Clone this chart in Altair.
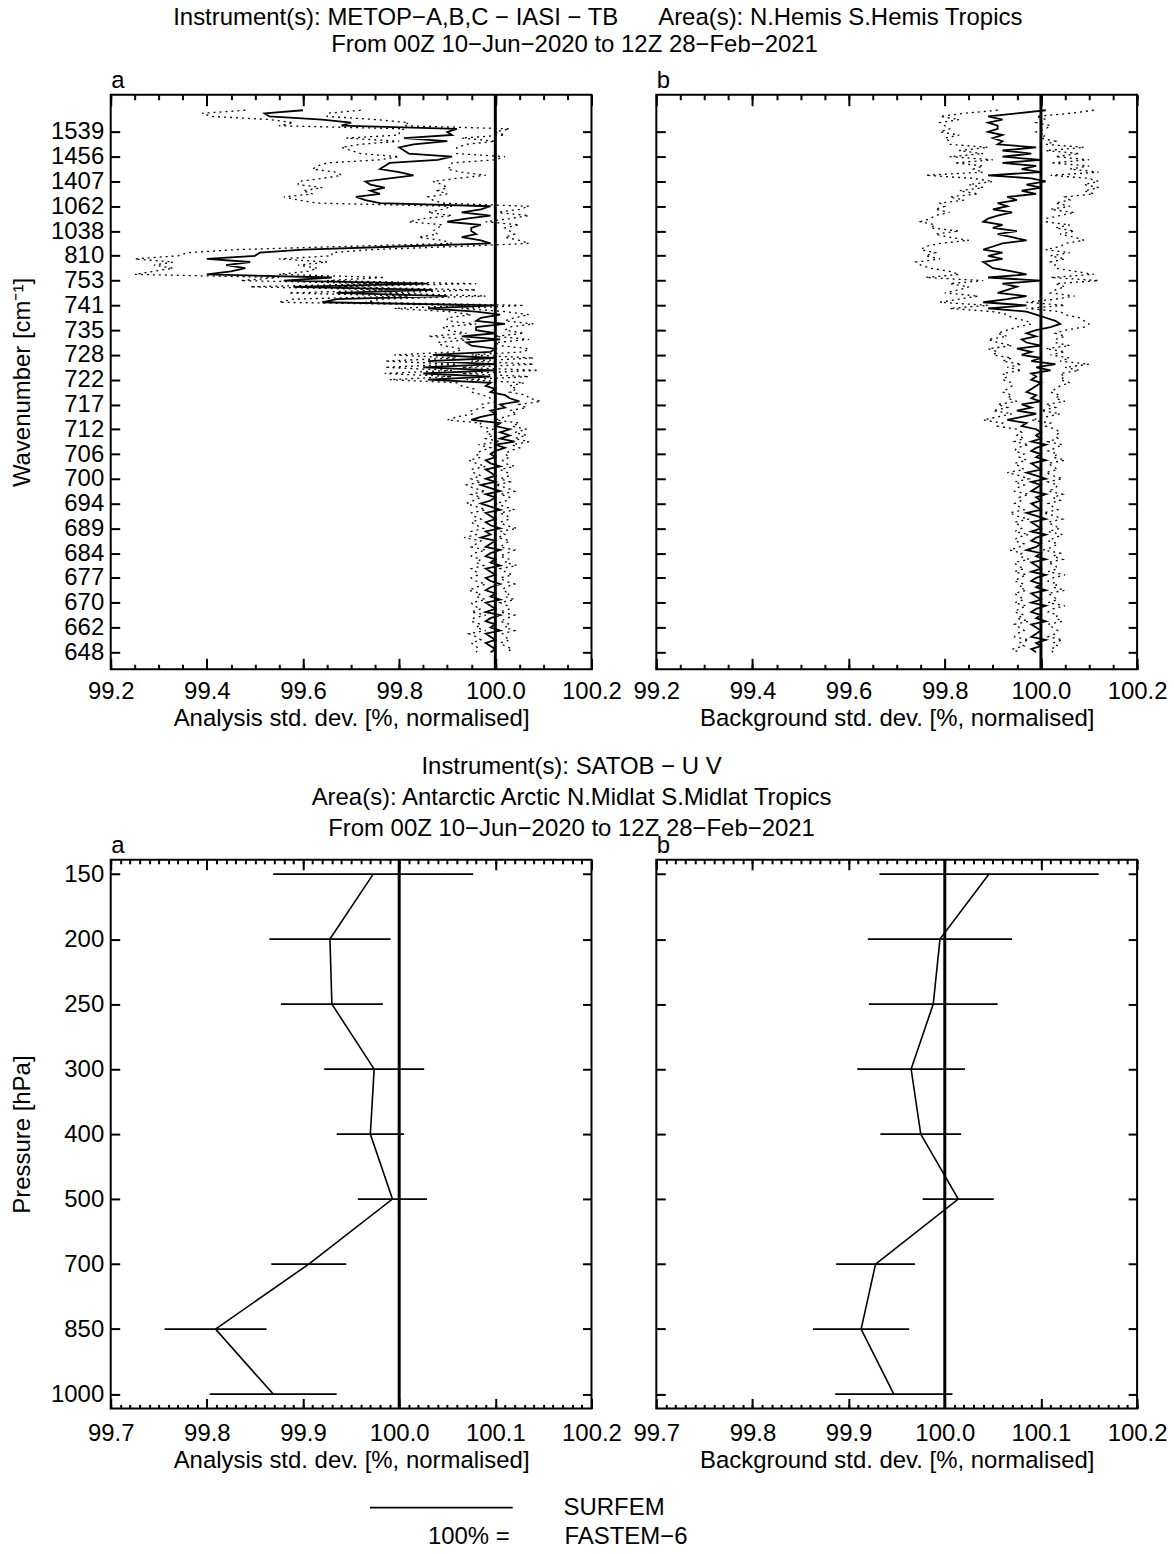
import altair as alt
import pandas as pd
import numpy as np

FONT = "Liberation Sans"
FS = 24
NB = "\u00a0"
ZW = "\u200b"

TITLE_TOP = [
    ZW + NB * 7 + "Instrument(s): METOP\u2212A,B,C \u2212 IASI \u2212 TB" + NB * 6 + "Area(s): N.Hemis S.Hemis Tropics",
    "From 00Z 10\u2212Jun\u22122020 to 12Z 28\u2212Feb\u22122021",
]
TITLE_BOTTOM = [
    "Instrument(s): SATOB \u2212 U V",
    "Area(s): Antarctic Arctic N.Midlat S.Midlat Tropics",
    "From 00Z 10\u2212Jun\u22122020 to 12Z 28\u2212Feb\u22122021",
]

WAVENUMBER_LABELS = ["1539", "1456", "1407", "1062", "1038", "810", "753", "741", "735", "728", "722",
                     "717", "712", "706", "700", "694", "689", "684", "677", "670", "662", "648"]
PRESSURE_LEVELS = ["150", "200", "250", "300", "400", "500", "700", "850", "1000"]
TOP_X_TICKS = [99.2, 99.4, 99.6, 99.8, 100.0, 100.2]
BOT_X_TICKS = [99.7, 99.8, 99.9, 100.0, 100.1, 100.2]

IASI_AN_MEAN = [
    99.60, 99.52, 99.53, 99.64, 99.70, 99.68, 99.92, 99.90,
    99.91, 99.81, 99.90, 99.83, 99.80, 99.81, 99.82, 99.91,
    99.88, 99.78, 99.77, 99.76, 99.80, 99.83, 99.78, 99.73,
    99.74, 99.77, 99.74, 99.76, 99.71, 99.73, 99.76, 99.99,
    99.97, 99.93, 99.99, 99.94, 99.90, 99.97, 99.95, 99.95,
    99.96, 99.93, 99.97, 99.99, 99.80, 99.60, 99.51, 99.50,
    99.40, 99.49, 99.44, 99.48, 99.45, 99.40, 99.66, 99.56,
    99.86, 99.58, 99.87, 99.67, 99.90, 99.67, 99.64, 100.00,
    99.86, 99.96, 100.01, 99.97, 99.96, 100.02, 99.96, 99.96,
    100.00, 99.93, 100.01, 99.94, 99.95, 100.00, 99.99, 99.87,
    100.00, 99.86, 100.00, 99.85, 100.00, 99.85, 99.99, 99.86,
    99.99, 99.98, 100.00, 99.99, 100.02, 100.03, 100.05, 100.01,
    100.02, 99.99, 100.00, 99.97, 99.95, 100.01, 100.00, 100.03,
    100.01, 100.03, 100.01, 100.04, 100.00, 100.02, 100.00, 99.99,
    100.00, 99.98, 99.99, 100.01, 99.98, 99.99, 100.00, 99.98,
    100.00, 99.97, 99.99, 100.01, 99.98, 100.00, 99.99, 99.97,
    99.99, 100.01, 99.98, 99.99, 100.00, 99.98, 99.99, 100.01,
    99.98, 99.99, 99.97, 100.00, 99.99, 99.98, 100.01, 99.99,
    99.98, 100.00, 99.99, 100.01, 99.98, 99.99, 100.00, 99.98,
    99.99, 100.01, 99.99, 99.98, 100.00, 99.99, 100.01, 99.98,
    99.99, 100.00, 99.98, 100.01, 99.99, 99.98, 100.00, 99.99,
    100.01, 99.98, 99.99, 100.00, 99.98, 99.99, 100.00, 99.99,
]
IASI_AN_ERR = [
    0.12, 0.13, 0.12, 0.11, 0.12, 0.13, 0.11, 0.10,
    0.11, 0.12, 0.10, 0.11, 0.12, 0.11, 0.10, 0.11,
    0.12, 0.13, 0.14, 0.14, 0.13, 0.15, 0.14, 0.14,
    0.15, 0.13, 0.14, 0.14, 0.15, 0.14, 0.13, 0.08,
    0.08, 0.07, 0.08, 0.09, 0.08, 0.08, 0.07, 0.08,
    0.08, 0.09, 0.08, 0.08, 0.12, 0.14, 0.15, 0.16,
    0.15, 0.16, 0.15, 0.15, 0.16, 0.15, 0.11, 0.09,
    0.10, 0.09, 0.09, 0.10, 0.08, 0.09, 0.09, 0.06,
    0.07, 0.06, 0.06, 0.07, 0.06, 0.06, 0.07, 0.06,
    0.06, 0.07, 0.06, 0.06, 0.06, 0.07, 0.07, 0.08,
    0.08, 0.09, 0.08, 0.08, 0.09, 0.08, 0.08, 0.08,
    0.07, 0.05, 0.045, 0.04, 0.045, 0.04, 0.045, 0.04,
    0.045, 0.04, 0.045, 0.05, 0.05, 0.04, 0.035, 0.035,
    0.03, 0.035, 0.03, 0.03, 0.035, 0.03, 0.03, 0.03,
    0.03, 0.035, 0.03, 0.03, 0.03, 0.035, 0.03, 0.03,
    0.03, 0.03, 0.035, 0.03, 0.03, 0.03, 0.035, 0.03,
    0.03, 0.03, 0.03, 0.035, 0.03, 0.03, 0.03, 0.035,
    0.03, 0.03, 0.035, 0.03, 0.03, 0.03, 0.03, 0.035,
    0.03, 0.03, 0.03, 0.035, 0.03, 0.03, 0.035, 0.03,
    0.03, 0.03, 0.03, 0.035, 0.03, 0.03, 0.03, 0.03,
    0.035, 0.03, 0.03, 0.03, 0.035, 0.03, 0.03, 0.03,
    0.03, 0.035, 0.03, 0.03, 0.03, 0.03, 0.035, 0.03,
]
IASI_BG_MEAN = [
    100.01, 99.95, 99.89, 99.92, 99.89, 99.91, 99.91, 99.89,
    99.92, 99.90, 99.92, 99.91, 99.99, 99.92, 99.98, 99.92,
    100.00, 99.92, 99.99, 99.96, 100.00, 99.89, 99.98, 100.01,
    99.97, 100.00, 99.96, 99.99, 99.93, 99.95, 99.91, 99.93,
    99.90, 99.94, 99.91, 99.89, 99.88, 99.92, 99.90, 99.95,
    99.91, 99.94, 99.97, 99.92, 99.90, 99.88, 99.92, 99.89,
    99.92, 99.88, 99.89, 99.90, 99.94, 99.97, 99.89, 100.00,
    99.92, 99.95, 99.93, 99.91, 99.97, 99.93, 99.88, 99.97,
    99.89, 99.97, 99.99, 100.01, 100.03, 100.04, 100.02, 99.99,
    99.97, 99.99, 99.96, 99.97, 100.00, 99.95, 99.98, 99.96,
    100.00, 99.98, 100.03, 99.99, 100.02, 99.98, 99.99, 99.98,
    100.00, 99.99, 99.98, 99.97, 99.99, 99.98, 100.00, 99.96,
    99.98, 99.95, 99.99, 99.96, 99.93, 99.97, 99.96, 99.99,
    100.00, 99.99, 100.00, 99.98, 100.01, 99.99, 99.98, 100.00,
    99.99, 100.01, 99.98, 99.99, 100.00, 99.97, 99.99, 100.01,
    99.98, 100.00, 99.99, 99.98, 100.01, 99.99, 100.00, 99.98,
    99.99, 100.00, 99.97, 99.99, 100.01, 99.98, 99.99, 100.00,
    99.98, 100.01, 99.99, 99.98, 100.00, 99.99, 99.97, 100.00,
    99.99, 100.01, 99.98, 99.99, 100.00, 99.98, 100.01, 99.99,
    99.98, 100.00, 99.99, 100.01, 99.98, 99.99, 100.00, 99.98,
    100.01, 99.99, 99.98, 100.00, 99.99, 100.01, 99.98, 99.99,
    100.00, 99.99, 99.98, 100.01, 99.99, 100.00, 99.98, 99.99,
]
IASI_BG_ERR = [
    0.10, 0.11, 0.10, 0.09, 0.10, 0.11, 0.10, 0.10,
    0.09, 0.10, 0.11, 0.10, 0.10, 0.09, 0.10, 0.11,
    0.10, 0.10, 0.11, 0.10, 0.12, 0.13, 0.12, 0.11,
    0.12, 0.12, 0.13, 0.12, 0.12, 0.11, 0.12, 0.13,
    0.12, 0.13, 0.13, 0.12, 0.13, 0.14, 0.13, 0.12,
    0.13, 0.13, 0.12, 0.13, 0.14, 0.13, 0.14, 0.13,
    0.13, 0.14, 0.14, 0.13, 0.13, 0.14, 0.13, 0.12,
    0.11, 0.10, 0.10, 0.11, 0.10, 0.10, 0.09, 0.08,
    0.08, 0.07, 0.06, 0.07, 0.06, 0.06, 0.07, 0.06,
    0.06, 0.06, 0.07, 0.06, 0.06, 0.06, 0.07, 0.06,
    0.06, 0.06, 0.07, 0.06, 0.06, 0.06, 0.06, 0.06,
    0.06, 0.05, 0.05, 0.05, 0.05, 0.05, 0.05, 0.05,
    0.05, 0.05, 0.05, 0.05, 0.05, 0.05, 0.05, 0.04,
    0.04, 0.04, 0.035, 0.035, 0.035, 0.04, 0.035, 0.035,
    0.035, 0.04, 0.035, 0.035, 0.035, 0.04, 0.035, 0.035,
    0.035, 0.035, 0.04, 0.035, 0.035, 0.035, 0.04, 0.035,
    0.035, 0.035, 0.035, 0.04, 0.035, 0.035, 0.035, 0.04,
    0.035, 0.035, 0.04, 0.035, 0.035, 0.035, 0.035, 0.04,
    0.035, 0.035, 0.035, 0.04, 0.035, 0.035, 0.04, 0.035,
    0.035, 0.035, 0.035, 0.04, 0.035, 0.035, 0.035, 0.035,
    0.04, 0.035, 0.035, 0.035, 0.04, 0.035, 0.035, 0.035,
    0.035, 0.04, 0.035, 0.035, 0.035, 0.035, 0.04, 0.035,
]

SATOB_AN_MEAN = [99.973, 99.928, 99.930, 99.974, 99.970, 99.993, 99.906, 99.809, 99.869]
SATOB_AN_ERR = [0.104, 0.063, 0.053, 0.052, 0.035, 0.036, 0.039, 0.053, 0.066]
SATOB_BG_MEAN = [100.046, 99.995, 99.988, 99.965, 99.975, 100.014, 99.928, 99.913, 99.947]
SATOB_BG_ERR = [0.114, 0.075, 0.067, 0.056, 0.042, 0.037, 0.041, 0.050, 0.061]

EXP_NAME = "SURFEM"
REF_NAME = "FASTEM\u22126"
REF_VALUE = 100.0

W = 482
H_TOP = 576
H_BOT = 550
Y_TICK_IDX = [7 + 8 * k for k in range(len(WAVENUMBER_LABELS))]
LABEL_EXPR_TOP = "[" + ",".join("'%s'" % s for s in WAVENUMBER_LABELS) + "][round((datum.value - 7) / 8)]"
P_TICK_IDX = list(range(len(PRESSURE_LEVELS)))
LABEL_EXPR_BOT = "[" + ",".join("'%s'" % s for s in PRESSURE_LEVELS) + "][round(datum.value)]"


def iasi_df(mean, err):
    return pd.DataFrame({
        "idx": list(range(len(mean))),
        "mean": mean,
        "upper": [m + e for m, e in zip(mean, err)],
        "lower": [m - e for m, e in zip(mean, err)],
        "model": [EXP_NAME] * len(mean),
    })


def satob_df(mean, err):
    return pd.DataFrame({
        "k": list(range(len(PRESSURE_LEVELS))),
        "mean": mean,
        "lo": [m - e for m, e in zip(mean, err)],
        "hi": [m + e for m, e in zip(mean, err)],
        "model": [EXP_NAME] * len(mean),
    })


REF = pd.DataFrame({"ref": [REF_VALUE], "model": [REF_NAME]})


def x_axes(major, minor, mlen, nlen, title, letter, lpad, tpad):
    common = dict(grid=False, domain=False)
    bmaj = alt.Axis(orient="bottom", values=major, format=".1f", tickSize=mlen, offset=-mlen,
                    labelPadding=lpad, labelFlush=False, labelOverlap=False,
                    title=title, titlePadding=tpad, **common)
    bmin = alt.Axis(orient="bottom", values=minor, tickSize=nlen, offset=-nlen,
                    labels=False, title=None, **common)
    tmaj = alt.Axis(orient="top", values=major, tickSize=mlen, offset=-mlen, labels=False,
                    title=letter, titleAngle=0, titleAlign="left", titleBaseline="alphabetic",
                    titleX=0, titleY=-(mlen + 7), **common)
    tmin = alt.Axis(orient="top", values=minor, tickSize=nlen, offset=-nlen,
                    labels=False, title=None, **common)
    return bmaj, bmin, tmaj, tmin


def y_axes(left_labels, ytitle, values, expr):
    common = dict(grid=False, domain=False, tickSize=9, offset=-9, values=values)
    if left_labels:
        left = alt.Axis(orient="left", labelPadding=7, labelOverlap=False, labelFlush=False,
                        labelExpr=expr, title=ytitle, titlePadding=16, **common)
    else:
        left = alt.Axis(orient="left", labels=False, title=None, **common)
    right = alt.Axis(orient="right", labels=False, title=None, **common)
    return left, right


def iasi_panel(mean, err, letter, xtitle, left_labels, title=None):
    df = iasi_df(mean, err)
    xs = alt.Scale(domain=[99.2, 100.2], nice=False, zero=False)
    ys = alt.Scale(domain=[-5, 180.5], reverse=True, nice=False, zero=False)
    minor = [round(99.2 + 0.05 * k, 2) for k in range(21)]
    bmaj, bmin, tmaj, tmin = x_axes(TOP_X_TICKS, minor, 11, 5, xtitle, letter, 10, 3)
    yl, yr = y_axes(left_labels, "Wavenumber [cm\u207b\u00b9]", Y_TICK_IDX, LABEL_EXPR_TOP)
    base = alt.Chart(df)
    upper = base.mark_line(color="black", strokeWidth=1.3, strokeDash=[2, 4]).encode(
        x=alt.X("upper:Q", scale=xs, axis=bmin),
        y=alt.Y("idx:Q", scale=ys, axis=yr),
        order=alt.Order("idx:Q"),
    )
    lower = base.mark_line(color="black", strokeWidth=1.3, strokeDash=[2, 4]).encode(
        x=alt.X("lower:Q", scale=xs, axis=tmin),
        y=alt.Y("idx:Q", scale=ys, axis=None),
        order=alt.Order("idx:Q"),
    )
    ghost = base.mark_line(opacity=0).encode(
        x=alt.X("mean:Q", scale=xs, axis=tmaj),
        y=alt.Y("idx:Q", scale=ys, axis=None),
        order=alt.Order("idx:Q"),
    )
    rule = alt.Chart(REF).mark_rule(color="black", strokeWidth=3).encode(
        x=alt.X("ref:Q", scale=xs, axis=None),
    )
    line = base.mark_line(color="black", strokeWidth=1.8).encode(
        x=alt.X("mean:Q", scale=xs, axis=bmaj),
        y=alt.Y("idx:Q", scale=ys, axis=yl),
        order=alt.Order("idx:Q"),
    )
    props = dict(width=W, height=H_TOP)
    if title is not None:
        props["title"] = title
    return alt.layer(upper, lower, ghost, rule, line).resolve_axis(
        x="independent", y="independent").properties(**props)


def satob_panel(mean, err, letter, xtitle, left_labels, title=None, legends=False):
    df = satob_df(mean, err)
    xs = alt.Scale(domain=[99.7, 100.2], nice=False, zero=False)
    ys = alt.Scale(domain=[-0.22, 8.22], reverse=True, nice=False, zero=False)
    minor = [round(99.7 + 0.01 * k, 2) for k in range(51)]
    bmaj, bmin, tmaj, tmin = x_axes(BOT_X_TICKS, minor, 10, 4, xtitle, letter, 13, 3)
    yl, yr = y_axes(left_labels, "Pressure [hPa]", P_TICK_IDX, LABEL_EXPR_BOT)
    base = alt.Chart(df)
    bars = base.mark_rule(color="black", strokeWidth=1.6).encode(
        x=alt.X("lo:Q", scale=xs, axis=bmin),
        x2="hi:Q",
        y=alt.Y("k:Q", scale=ys, axis=yr),
    )
    ghost1 = base.mark_line(opacity=0).encode(
        x=alt.X("mean:Q", scale=xs, axis=tmin),
        y=alt.Y("k:Q", scale=ys, axis=None),
        order=alt.Order("k:Q"),
    )
    ghost2 = base.mark_line(opacity=0).encode(
        x=alt.X("mean:Q", scale=xs, axis=tmaj),
        y=alt.Y("k:Q", scale=ys, axis=None),
        order=alt.Order("k:Q"),
    )
    rule_enc = dict(x=alt.X("ref:Q", scale=xs, axis=None))
    line_enc = dict(
        x=alt.X("mean:Q", scale=xs, axis=bmaj),
        y=alt.Y("k:Q", scale=ys, axis=yl),
        order=alt.Order("k:Q"),
    )
    if legends:
        rule_enc["strokeDash"] = alt.StrokeDash(
            "model:N", scale=alt.Scale(domain=[REF_NAME], range=[[1, 0]]),
            legend=alt.Legend(orient="none", legendX=318, legendY=667, title="100% =",
                              titleOrient="left", titlePadding=30, symbolType="stroke",
                              symbolSize=64, symbolOpacity=0, labelOffset=0, padding=0,
                              titleBaseline="middle"))
        line_enc["stroke"] = alt.Stroke(
            "model:N", scale=alt.Scale(domain=[EXP_NAME], range=["black"]),
            legend=alt.Legend(orient="none", legendX=259, legendY=577, title=None,
                              symbolType="stroke", symbolSize=143 * 143, symbolStrokeWidth=1.6,
                              symbolStrokeColor="black", labelOffset=50, padding=0))
    rule = alt.Chart(REF).mark_rule(color="black", strokeWidth=3).encode(**rule_enc)
    line = base.mark_line(color="black", strokeWidth=1.6).encode(**line_enc)
    props = dict(width=W, height=H_BOT)
    if title is not None:
        props["title"] = title
    return alt.layer(bars, ghost1, ghost2, rule, line).resolve_axis(
        x="independent", y="independent").properties(**props)


top_title = alt.TitleParams(text=TITLE_TOP, anchor="middle", frame="group", dx=224, lineHeight=27, offset=12)
bot_title = alt.TitleParams(text=TITLE_BOTTOM, anchor="middle", frame="group", dx=221, dy=11,
                            lineHeight=31, offset=4)

tl = iasi_panel(IASI_AN_MEAN, IASI_AN_ERR, "a", "Analysis std. dev. [%, normalised]", True, title=top_title)
tr = iasi_panel(IASI_BG_MEAN, IASI_BG_ERR, "b", "Background std. dev. [%, normalised]", False)
bl = satob_panel(SATOB_AN_MEAN, SATOB_AN_ERR, "a", "Analysis std. dev. [%, normalised]", True,
                 title=bot_title, legends=True)
br = satob_panel(SATOB_BG_MEAN, SATOB_BG_ERR, "b", "Background std. dev. [%, normalised]", False)

chart = alt.concat(tl, tr, bl, br, columns=2, spacing=alt.RowColnumber(row=191, column=65),
                   bounds="flush", padding={"left": 9, "top": 3, "right": 5, "bottom": 5})
chart = chart.resolve_scale(stroke="independent", strokeDash="independent").resolve_legend(
    stroke="independent", strokeDash="independent")
chart = chart.configure(font=FONT).configure_view(stroke="black", strokeWidth=2).configure_axis(
    labelFont=FONT, labelFontSize=FS, titleFont=FONT, titleFontSize=FS, titleFontWeight="normal",
    labelColor="black", titleColor="black", tickColor="black", tickWidth=2,
).configure_title(font=FONT, fontSize=FS, fontWeight="normal", color="black").configure_legend(
    labelFont=FONT, labelFontSize=FS, titleFont=FONT, titleFontSize=FS, titleFontWeight="normal",
    labelColor="black", titleColor="black",
)

chart.save("out.html", embed_options={"renderer": "svg", "actions": False})
